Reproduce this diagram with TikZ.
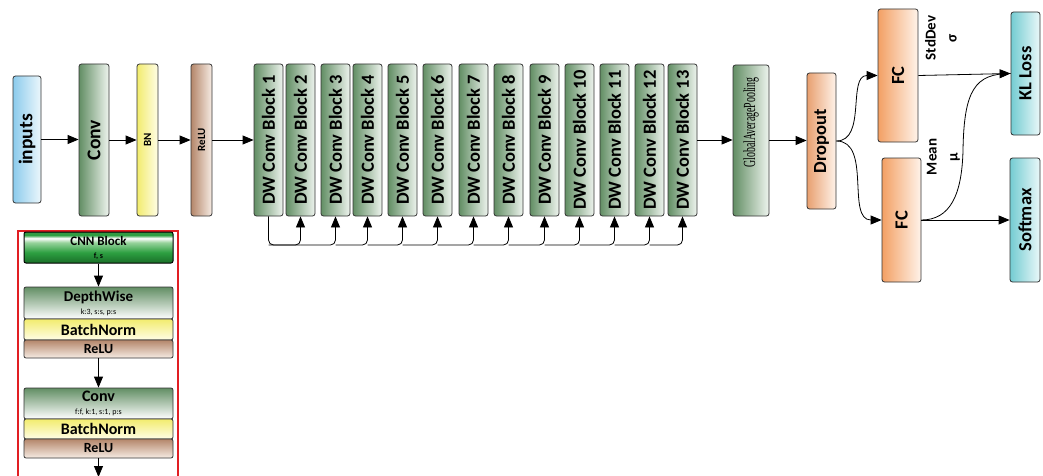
\documentclass[tikz,border=0pt]{standalone}
\usepackage{graphicx}
\usepackage{fontspec}
\setmainfont{Carlito}
\newfontfamily\gapfont{Liberation Serif}
\usetikzlibrary{arrows.meta}
\definecolor{inC}{RGB}{140,203,236}
\definecolor{inR}{RGB}{236,247,252}
\definecolor{grC}{RGB}{98,142,100}
\definecolor{grR}{RGB}{238,244,238}
\definecolor{ylC}{RGB}{242,236,110}
\definecolor{ylR}{RGB}{255,253,230}
\definecolor{brC}{RGB}{180,134,106}
\definecolor{brR}{RGB}{246,236,228}
\definecolor{orC}{RGB}{243,160,100}
\definecolor{orR}{RGB}{255,243,234}
\definecolor{dpC}{RGB}{232,160,112}
\definecolor{cyC}{RGB}{116,204,210}
\definecolor{cyR}{RGB}{234,248,249}
\definecolor{redframe}{RGB}{225,30,35}
\definecolor{cnnD}{RGB}{25,110,40}
\definecolor{cnnM}{RGB}{45,160,65}
\definecolor{cnnL}{RGB}{150,210,155}
\definecolor{cnnT}{RGB}{55,150,70}
\pgfdeclareverticalshading{cnnshade}{100bp}{color(0bp)=(cnnD); color(25bp)=(cnnD); color(42bp)=(cnnM); color(58bp)=(cnnL); color(65bp)=(white); color(70bp)=(cnnM); color(75bp)=(cnnT); color(100bp)=(cnnT)}
\begin{document}
\begin{tikzpicture}[x=1pt,y=-1pt,
  box/.style={draw=black!80, line width=0.8pt, rounded corners=2.5pt, inner sep=0pt,
    font=\fontsize{18.5}{18.5}\selectfont\bfseries},
  inbox/.style={box, left color=inC, right color=inR},
  grbox/.style={box, left color=grC, right color=grR},
  ylbox/.style={box, left color=ylC, right color=ylR},
  brbox/.style={box, left color=brC, right color=brR},
  orbox/.style={box, left color=orC, right color=orR},
  dpbox/.style={box, left color=dpC, right color=orR},
  cybox/.style={box, left color=cyC, right color=cyR},
  lbox/.style={draw=black!80, line width=0.8pt, rounded corners=2pt, inner sep=0pt,
    minimum width=149pt, align=center},
  arr/.style={-{Triangle[length=11pt,width=9pt]}, line width=0.8pt},
  ln/.style={line width=0.8pt},
  lab/.style={inner sep=0pt, font=\fontsize{15}{21}\selectfont\bfseries}]
\useasboundingbox (0,0) rectangle (1043,476);

% main chain
\node[inbox, minimum width=28pt, minimum height=127pt, font=\fontsize{19.5}{19.5}\selectfont\bfseries] (inputs) at (27,139.5) {\rotatebox{90}{inputs}};
\node[grbox, minimum width=30pt, minimum height=152pt, font=\fontsize{19.5}{19.5}\selectfont\bfseries] (conv1) at (94,140) {\rotatebox{90}{Conv}};
\node[ylbox, minimum width=21pt, minimum height=152pt, font=\fontsize{11}{11}\selectfont\bfseries] (bn) at (147.5,140) {\rotatebox{90}{BN}};
\node[brbox, minimum width=21pt, minimum height=152pt, font=\fontsize{11}{11}\selectfont\bfseries] (relu) at (201.5,140) {\rotatebox{90}{ReLU}};

\foreach \l [count=\i] in {254,286,321,353,388,423,459,494,530,565,600,635,668} {
  \node[grbox, minimum width=29pt, minimum height=152pt] (b\i) at (\l+14.5,140) {\rotatebox{90}{DW Conv Block \i}};
}

\node[grbox, minimum width=36pt, minimum height=151pt, font=\gapfont\fontsize{17}{17}\selectfont] (gap) at (751,140.5) {\rotatebox{90}{\hspace*{36pt}\scalebox{0.58}[1]{GlobalAveragePooling}}};
\node[dpbox, minimum width=29pt, minimum height=136pt] (drop) at (821.5,141) {\rotatebox{90}{Dropout}};
\node[orbox, minimum width=40pt, minimum height=133pt] (fc1) at (898,75.5) {\rotatebox{90}{FC}};
\node[orbox, minimum width=39pt, minimum height=124pt] (fc2) at (901.5,220) {\rotatebox{90}{FC}};
\node[cybox, minimum width=29pt, minimum height=123pt] (kl) at (1025.5,73.5) {\rotatebox{90}{KL Loss}};
\node[cybox, minimum width=30pt, minimum height=124pt] (soft) at (1025,220) {\rotatebox{90}{Softmax}};

\node[lab] (sd) at (942,38) {\rotatebox{90}{\begin{tabular}{@{}c@{}}StdDev\\σ\end{tabular}}};
\node[lab] (mn) at (943,157) {\rotatebox{90}{\begin{tabular}{@{}c@{}}Mean\\μ\end{tabular}}};

% connectors
\draw[arr] (inputs.east) -- (conv1.west |- inputs.east);
\draw[arr] (conv1.east) -- (bn.west);
\draw[arr] (bn.east) -- (relu.west);
\draw[arr] (relu.east) -- (b1.west);
\draw[arr] (b13.east) -- (gap.west |- b13.east);
\draw[arr] (gap.east) -- (drop.west |- gap.east);

\draw[ln, rounded corners=5pt] (b1.south) |- (b2.south |- 0,245);
\foreach \k [remember=\k as \p (initially 1)] in {2,...,13} {
  \draw[arr, rounded corners=5pt] (b\p.south |- 0,245) -| (b\k.south);
}

\draw[arr] (drop.east) to[out=0,in=180] (fc1.west);
\draw[arr] (drop.east) to[out=0,in=180] (fc2.west);
\draw[ln] (fc2.east) .. controls (950,220) and (962,195) .. (963,150) .. controls (964,90) and (975,73.5) .. (kl.west);
\draw[arr] (fc1.east) -- (kl.west);
\draw[arr] (fc2.east) -- (soft.west);

% legend
\draw[redframe, line width=2pt] (18,231) rectangle (178,520);
\node[lbox, draw=black, line width=1pt, shading=cnnshade, minimum height=31pt] (cnn) at (98.5,247.5)
  {{\fontsize{13}{13}\selectfont\bfseries CNN Block}\\[1pt]{\fontsize{8}{8}\selectfont\bfseries f, s}};
\node[lbox, top color=grC, bottom color=white, minimum height=32pt] (dw) at (98.5,303)
  {{\fontsize{15}{15}\selectfont\bfseries DepthWise}\\[1pt]{\fontsize{8}{8}\selectfont k:3, s:s, p:s}};
\node[lbox, top color=ylC, bottom color=ylR, minimum height=21pt, font=\fontsize{16}{16}\selectfont\bfseries] (bn1) at (98.5,329.5) {BatchNorm};
\node[lbox, top color=brC, bottom color=brR, minimum height=18pt, font=\fontsize{14}{14}\selectfont\bfseries] (re1) at (98.5,349) {ReLU};
\node[lbox, top color=grC, bottom color=white, minimum height=31pt] (cv) at (98.5,403.5)
  {{\fontsize{16}{16}\selectfont\bfseries Conv}\\[1pt]{\fontsize{8}{8}\selectfont f:f, k:1, s:1, p:s}};
\node[lbox, top color=ylC, bottom color=ylR, minimum height=20pt, font=\fontsize{16}{16}\selectfont\bfseries] (bn2) at (98.5,429) {BatchNorm};
\node[lbox, top color=brC, bottom color=brR, minimum height=19pt, font=\fontsize{14}{14}\selectfont\bfseries] (re2) at (98.5,448.5) {ReLU};
\coordinate (out) at (98.5,477);
\draw[arr] (cnn.south) -- (dw.north);
\draw[arr] (re1.south) -- (cv.north);
\draw[arr] (re2.south) -- (out);
\end{tikzpicture}
\end{document}
